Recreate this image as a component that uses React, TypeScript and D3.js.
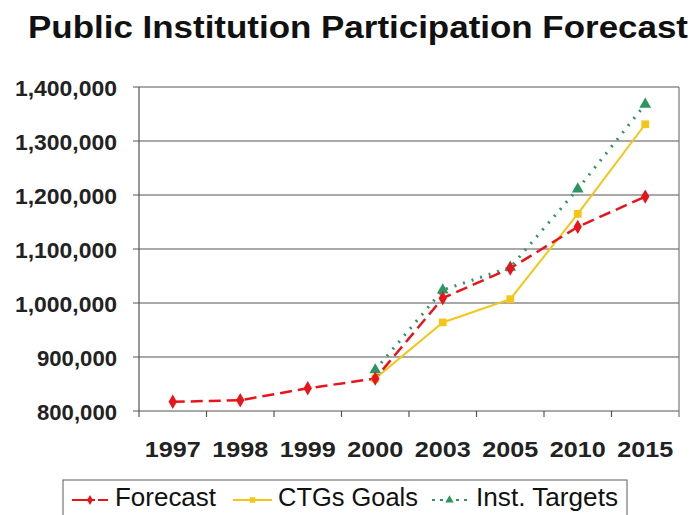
import React, { useRef, useEffect } from 'react'
import * as d3 from 'd3'

const years = ['1997', '1998', '1999', '2000', '2003', '2005', '2010', '2015']
const forecast = [817000, 820000, 842000, 860000, 1009000, 1064000, 1141000, 1197000]
const ctgsGoals = [null, null, null, 860000, 964000, 1007000, 1165000, 1331000]
const instTargets = [null, null, null, 876000, 1024000, 1066000, 1211000, 1368000]
const yTicks = [800000, 900000, 1000000, 1100000, 1200000, 1300000, 1400000]

const W = 699
const H = 515
const margin = { top: 87, right: 20, bottom: 104, left: 139 }

export default function App() {
  const svgRef = useRef<SVGSVGElement>(null)

  useEffect(() => {
    if (!svgRef.current) return
    const svg = d3.select(svgRef.current)
    svg.selectAll('*').remove()

    const x = d3.scaleBand().domain(years).range([margin.left, W - margin.right])
    const y = d3.scaleLinear().domain([800000, 1400000]).range([H - margin.bottom, margin.top])
    const font = 'Arial, "Liberation Sans", sans-serif'

    svg.append('rect').attr('width', W).attr('height', H).attr('fill', '#fff')

    // title
    svg.append('text')
      .attr('x', 28).attr('y', 38)
      .attr('textLength', 660).attr('lengthAdjust', 'spacingAndGlyphs')
      .style('font-family', font).style('font-weight', 'bold').style('font-size', '32px')
      .attr('fill', '#111')
      .text('Public Institution Participation Forecast')

    // grid
    svg.append('g')
      .selectAll('line')
      .data(yTicks)
      .enter()
      .append('line')
      .attr('x1', margin.left - 6).attr('x2', W - margin.right)
      .attr('y1', d => y(d)).attr('y2', d => y(d))
      .attr('stroke', '#555').attr('stroke-width', 1.2)

    // left + right border
    svg.append('line')
      .attr('x1', margin.left).attr('x2', margin.left)
      .attr('y1', y(1400000)).attr('y2', y(800000) + 6)
      .attr('stroke', '#555').attr('stroke-width', 1.2)
    svg.append('line')
      .attr('x1', W - margin.right).attr('x2', W - margin.right)
      .attr('y1', y(1400000)).attr('y2', y(800000) + 6)
      .attr('stroke', '#777').attr('stroke-width', 1.2)

    // x ticks at band edges
    svg.append('g')
      .selectAll('line')
      .data(years.slice(1))
      .enter()
      .append('line')
      .attr('x1', d => x(d)!).attr('x2', d => x(d)!)
      .attr('y1', y(800000)).attr('y2', y(800000) + 6)
      .attr('stroke', '#555').attr('stroke-width', 1.2)

    // y labels
    svg.append('g')
      .selectAll('text')
      .data(yTicks)
      .enter()
      .append('text')
      .attr('x', 117).attr('y', d => y(d) + 9)
      .attr('text-anchor', 'end')
      .attr('textLength', d => (d >= 1000000 ? 102 : 80))
      .attr('lengthAdjust', 'spacingAndGlyphs')
      .style('font-family', font).style('font-weight', 'bold').style('font-size', '22px')
      .attr('fill', '#222')
      .text(d => d3.format(',')(d))

    // x labels
    svg.append('g')
      .selectAll('text')
      .data(years)
      .enter()
      .append('text')
      .attr('x', d => x(d)! + x.bandwidth() / 2).attr('y', 457)
      .attr('text-anchor', 'middle')
      .attr('textLength', 56)
      .attr('lengthAdjust', 'spacingAndGlyphs')
      .style('font-family', font).style('font-weight', 'bold').style('font-size', '22px')
      .attr('fill', '#222')
      .text(d => d)

    const cx = (i: number) => x(years[i])! + x.bandwidth() / 2
    const line = d3.line<number | null>()
      .defined(d => d != null)
      .x((d, i) => cx(i))
      .y(d => y(d as number))

    const series = [
      { name: 'Forecast', data: forecast, color: '#e8141c', dash: '12,6', width: 2.5, shape: d3.symbolDiamond, legDash: '16,3,4,3' },
      { name: 'CTGs Goals', data: ctgsGoals, color: '#f5c518', dash: null, width: 2, shape: d3.symbolSquare, legDash: null },
      { name: 'Inst. Targets', data: instTargets, color: '#2e9460', dash: '2,7', width: 3, shape: d3.symbolTriangle, legDash: '3,5' }
    ]

    const drawOrder = [1, 2, 0]
    drawOrder.forEach(k => {
      const s = series[k]
      svg.append('path')
        .attr('d', line(s.data)!)
        .attr('fill', 'none')
        .attr('stroke', s.color)
        .attr('stroke-width', s.width)
        .attr('stroke-dasharray', s.dash)
    })
    drawOrder.forEach(k => {
      const s = series[k]
      svg.append('g')
        .selectAll('path')
        .data(s.data.map((v, i) => ({ v, i })).filter(d => d.v != null))
        .enter()
        .append('path')
        .attr('transform', d => `translate(${cx(d.i)},${y(d.v as number)})`)
        .attr('d', d3.symbol().type(s.shape).size(60)())
        .attr('fill', s.color)
    })

    // legend
    const lg = svg.append('g')
    lg.append('rect')
      .attr('x', 63).attr('y', 480).attr('width', 564).attr('height', 45)
      .attr('fill', '#fff').attr('stroke', '#777').attr('stroke-width', 1.2)
    const items = [
      { x0: 72, x1: 108, s: series[0], tx: 115, tw: 101 },
      { x0: 233, x1: 272, s: series[1], tx: 278, tw: 140 },
      { x0: 432, x1: 467, s: series[2], tx: 476, tw: 142 }
    ]
    items.forEach(({ x0, x1, s, tx, tw }) => {
      lg.append('line')
        .attr('x1', x0).attr('x2', x1)
        .attr('y1', 500).attr('y2', 500)
        .attr('stroke', s.color).attr('stroke-width', 2)
        .attr('stroke-dasharray', s.legDash)
      lg.append('path')
        .attr('transform', `translate(${(x0 + x1) / 2},500)`)
        .attr('d', d3.symbol().type(s.shape).size(30)())
        .attr('fill', s.color)
      lg.append('text')
        .attr('x', tx).attr('y', 506)
        .attr('textLength', tw).attr('lengthAdjust', 'spacingAndGlyphs')
        .style('font-family', font).style('font-size', '25px')
        .attr('fill', '#111')
        .text(s.name)
    })
  }, [])

  return (
    <svg ref={svgRef} width={W} height={H} style={{ position: 'absolute', left: 0, top: 0 }} />
  )
}
